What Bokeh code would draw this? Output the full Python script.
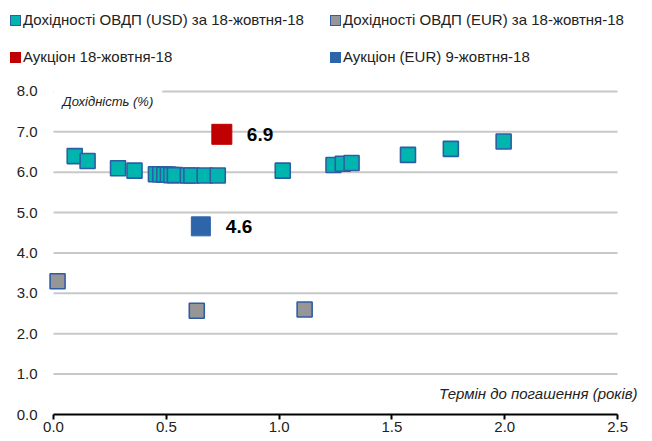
from bokeh.plotting import figure
from bokeh.layouts import column
from bokeh.models import (ColumnDataSource, Range1d, FixedTicker, Label, Div,
                          NumeralTickFormatter)
from bokeh.core.properties import value
from bokeh.embed import file_html
from bokeh.resources import INLINE

# ---- data ----
usd_term = [0.094, 0.151, 0.286, 0.359, 0.454, 0.473, 0.491, 0.507, 0.522, 0.538,
            0.595, 0.611, 0.670, 0.728, 1.016, 1.241, 1.282, 1.321, 1.571, 1.761, 1.995]
usd_yield = [6.40, 6.28, 6.10, 6.04, 5.95, 5.95, 5.94, 5.94, 5.93, 5.93,
             5.92, 5.92, 5.92, 5.92, 6.04, 6.18, 6.21, 6.23, 6.43, 6.58, 6.76]

eur_term = [0.018, 0.635, 1.113]
eur_yield = [3.30, 2.57, 2.60]

auc_usd_term = [0.746]
auc_usd_yield = [6.94]
auc_eur_term = [0.653]
auc_eur_yield = [4.66]
auc_labels = ["6.9", "4.6"]

y_ticks = [0, 1, 2, 3, 4, 5, 6, 7, 8]
x_ticks = [0.0, 0.5, 1.0, 1.5, 2.0, 2.5]

series_names = ["Дохідності ОВДП (USD) за 18-жовтня-18",
                "Дохідності ОВДП (EUR) за 18-жовтня-18",
                "Аукціон 18-жовтня-18",
                "Аукціон (EUR) 9-жовтня-18"]
y_title = "Дохідність (%)"
x_title = "Термін до погашення (років)"

FONT_S = "'Liberation Sans Narrow', 'Arial Narrow', 'Liberation Sans', sans-serif"
FONT = value(FONT_S)
TXT = "#222222"
TEAL = "#00B5AD"
EDGE = "#2E5DA6"
GREY = "#969696"
RED = "#C00000"
BLUE = "#2E64AA"
GRID = "#C8C8C8"

# (fill, border) per series, in legend order
series_fill = [TEAL, GREY, RED, BLUE]
series_edge = [EDGE, EDGE, RED, BLUE]

p = figure(width=650, height=364, output_backend="svg", toolbar_location=None,
           x_range=Range1d(-0.0222, 2.637), y_range=Range1d(0, 8.3715),
           min_border_left=48, min_border_right=2, min_border_top=0, min_border_bottom=26)
p.outline_line_color = None
p.background_fill_color = "white"

p.xaxis.ticker = FixedTicker(ticks=x_ticks)
p.yaxis.ticker = FixedTicker(ticks=y_ticks)
p.xaxis.formatter = NumeralTickFormatter(format="0.0")
p.yaxis.formatter = NumeralTickFormatter(format="0.0")
for ax in (p.xaxis[0], p.yaxis[0]):
    ax.major_label_text_font = FONT_S
    ax.major_label_text_font_size = "15px"
    ax.major_label_text_color = TXT
    ax.minor_tick_line_color = None
p.yaxis.axis_line_color = None
p.yaxis.major_tick_line_color = None
p.yaxis.major_label_standoff = 5
p.xaxis.bounds = (x_ticks[0], x_ticks[-1])
p.xaxis.axis_line_color = "black"
p.xaxis.axis_line_width = 2
p.xaxis.major_tick_line_color = "black"
p.xaxis.major_tick_line_width = 2
p.xaxis.major_tick_in = 0
p.xaxis.major_tick_out = 5
p.xaxis.major_label_standoff = 2
p.xgrid.grid_line_color = None
p.ygrid.grid_line_color = None

# horizontal gridlines spanning the x-axis extent
grid_y = y_ticks[1:]
p.segment(x0=[x_ticks[0]] * len(grid_y), x1=[x_ticks[-1]] * len(grid_y),
          y0=grid_y, y1=grid_y, line_color=GRID, line_width=2)

src_usd = ColumnDataSource(dict(x=usd_term, y=usd_yield))
src_eur = ColumnDataSource(dict(x=eur_term, y=eur_yield))
src_a1 = ColumnDataSource(dict(x=auc_usd_term, y=auc_usd_yield))
src_a2 = ColumnDataSource(dict(x=auc_eur_term, y=auc_eur_yield))
src_lab = ColumnDataSource(dict(x=auc_usd_term + auc_eur_term,
                                y=auc_usd_yield + auc_eur_yield, t=auc_labels))


def sq(src, fill, line, lw, size):
    return p.rect("x", "y", width=size, height=size, width_units="screen",
                  height_units="screen", source=src, fill_color=fill,
                  line_color=line, line_width=lw)


sq(src_eur, GREY, EDGE, 1.6, 15)
sq(src_usd, TEAL, EDGE, 1.6, 15)
sq(src_a1, RED, RED, 1, 20)
sq(src_a2, BLUE, BLUE, 1, 19)

p.text("x", "y", text="t", source=src_lab, x_offset=25, text_baseline="middle",
       text_font=FONT, text_font_size="19px", text_font_style="bold", text_color="black")

lab_y = Label(x=0, y=7.75, text=y_title, x_offset=0, text_baseline="middle",
              text_font=FONT_S, text_font_size="13px", text_font_style="italic",
              text_color=TXT, background_fill_color="white", padding=9)
p.add_layout(lab_y)
lab_x = Label(x=2.5, y=0.53, text=x_title, x_offset=20, text_align="right",
              text_baseline="middle", text_font=FONT_S, text_font_size="15px",
              text_font_style="italic", text_color=TXT)
p.add_layout(lab_x)

# ---- legend strip (2 x 2 grid) ----
cells = []
for i, (name, fill, edge) in enumerate(zip(series_names, series_fill, series_edge)):
    col, row = i % 2, i // 2
    left = 10 + 320 * col
    top = 10 + 37 * row
    cells.append(
        f'<span style="position:absolute;left:{left}px;top:{top + 5}px;width:11px;height:11px;'
        f'box-sizing:border-box;background:{fill};border:1.5px solid {edge};"></span>'
        f'<span style="position:absolute;left:{left + 13}px;top:{top}px;line-height:20px;'
        f'white-space:nowrap;">{name}</span>')
legend_html = (f'<div style="position:relative;width:650px;height:76px;'
               f'font-family:{FONT_S};font-size:15px;color:{TXT};">' + "".join(cells) + "</div>")
leg = Div(text=legend_html, width=650, height=76, margin=0)

layout = column(leg, p, spacing=0)

with open("out.html", "w") as f:
    f.write(file_html(layout, INLINE))
